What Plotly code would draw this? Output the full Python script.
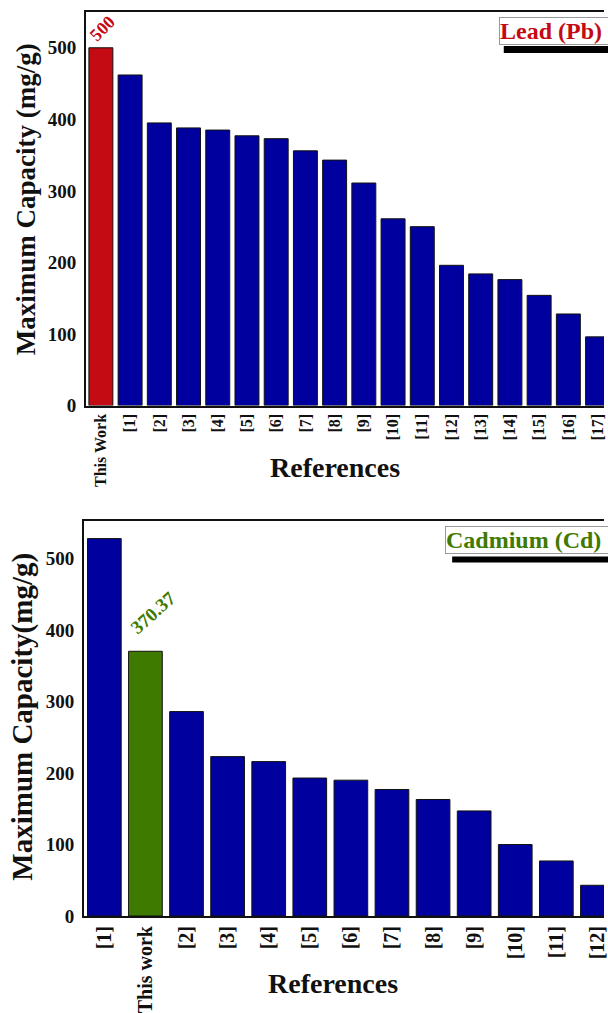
import plotly.graph_objects as go

# ---------------- data ----------------
pb_refs = ["This Work", "[1]", "[2]", "[3]", "[4]", "[5]", "[6]", "[7]", "[8]", "[9]",
           "[10]", "[11]", "[12]", "[13]", "[14]", "[15]", "[16]", "[17]"]
pb_vals = [500, 462, 395, 388, 385, 377, 373, 356, 343, 311,
           261, 250, 196, 184, 176, 154, 128, 96]

cd_refs = ["[1]", "This work", "[2]", "[3]", "[4]", "[5]", "[6]", "[7]", "[8]",
           "[9]", "[10]", "[11]", "[12]"]
cd_vals = [528, 370.37, 286, 223, 216, 193, 190, 177, 163, 147, 100, 77, 43]

y_ticks = [0, 100, 200, 300, 400, 500]

BLUE = "#00009E"
RED = "#C40A12"
GREEN = "#3F7A00"
FONT = "Liberation Serif"
INK = "#111"

pb_colors = [RED if r.lower() == "this work" else BLUE for r in pb_refs]
cd_colors = [GREEN if r.lower() == "this work" else BLUE for r in cd_refs]

fig = go.Figure()
fig.add_trace(go.Bar(x=pb_refs, y=pb_vals, marker=dict(color=pb_colors, line=dict(color=INK, width=1)),
                     xaxis="x", yaxis="y", showlegend=False))
fig.add_trace(go.Bar(x=cd_refs, y=cd_vals, marker=dict(color=cd_colors, line=dict(color=INK, width=1)),
                     xaxis="x2", yaxis="y2", showlegend=False))

W, H = 608, 1013
ML, MR, MT, MB = 84, 0, 12, 96
PW, PH = W - ML - MR, H - MT - MB


def px(x):
    return (x - ML) / PW


def py(y):
    return (H - MB - y) / PH


axis_common = dict(showline=True, linecolor=INK, linewidth=2, showgrid=False, zeroline=False, ticks="")


def tf(size):
    return dict(family=FONT, size=size, color=INK, weight="bold")


fig.update_layout(
    width=W, height=H,
    margin=dict(l=ML, r=MR, t=MT, b=MB),
    plot_bgcolor="white", paper_bgcolor="white",
    bargap=0.18,
    font=dict(family=FONT, color=INK),
    xaxis=dict(domain=[px(86), 1], anchor="y", type="category", range=[-0.51, 17.22],
               tickangle=-90, tickfont=tf(16), mirror=True, **axis_common),
    yaxis=dict(domain=[py(406), py(12)], anchor="x", range=[0, 550], tickvals=y_ticks,
               tickfont=tf(19), ticklabelstandoff=4, **axis_common),
    xaxis2=dict(domain=[0, 1], anchor="y2", type="category", range=[-0.495, 12.16],
                tickangle=-90, tickfont=tf(20), mirror=True, **axis_common),
    yaxis2=dict(domain=[0, py(522)], anchor="x2", range=[0, 552], tickvals=y_ticks,
                tickfont=tf(19), ticklabelstandoff=4, **axis_common),
)

ann = []
# axis titles
ann.append(dict(text="<b>Maximum Capacity (mg/g)</b>", x=px(25), y=py(199), xref="paper", yref="paper",
                xanchor="center", yanchor="middle",
                textangle=-90, showarrow=False, font=dict(family=FONT, size=27, color=INK)))
ann.append(dict(text="<b>References</b>", x=px(337), y=py(468), xref="paper", yref="paper",
                xanchor="center", yanchor="middle",
                showarrow=False, font=dict(family=FONT, size=28, color=INK)))
ann.append(dict(text="<b>Maximum Capacity(mg/g)</b>", x=px(22), y=py(717), xref="paper", yref="paper",
                xanchor="center", yanchor="middle",
                textangle=-90, showarrow=False, font=dict(family=FONT, size=29, color=INK)))
ann.append(dict(text="<b>References</b>", x=px(335), y=py(985), xref="paper", yref="paper",
                xanchor="center", yanchor="middle",
                showarrow=False, font=dict(family=FONT, size=28, color=INK)))

# value labels above "this work" bars
pb_i = [r.lower() for r in pb_refs].index("this work")
ann.append(dict(text="<b>%g</b>" % pb_vals[pb_i], x=pb_refs[pb_i], y=pb_vals[pb_i], xref="x", yref="y",
                textangle=-45, showarrow=False, yanchor="bottom", xshift=2, yshift=0,
                font=dict(family=FONT, size=18, color=RED)))
cd_i = [r.lower() for r in cd_refs].index("this work")
ann.append(dict(text="<b>%.2f</b>" % cd_vals[cd_i], x=cd_refs[cd_i], y=cd_vals[cd_i], xref="x2", yref="y2",
                textangle=-42, showarrow=False, yanchor="bottom", xshift=8, yshift=10,
                font=dict(family=FONT, size=19, color=GREEN)))

# metal labels (boxes) -- they run past the right edge of the picture, as in the reference
ann.append(dict(text="<b>Lead (Pb)</b>&nbsp;&nbsp;&nbsp;", x=px(502), y=py(17), xref="paper", yref="paper",
                xanchor="left", yanchor="top", showarrow=False, bgcolor="white",
                bordercolor="#999", borderwidth=1, borderpad=0,
                font=dict(family=FONT, size=24, color=RED)))
ann.append(dict(text="<b>Cadmium (Cd)</b>&nbsp;&nbsp;&nbsp;", x=px(448), y=py(527), xref="paper", yref="paper",
                xanchor="left", yanchor="top", showarrow=False, bgcolor="white",
                bordercolor="#999", borderwidth=1, borderpad=0,
                font=dict(family=FONT, size=24, color=GREEN)))
fig.update_layout(annotations=ann)

fig.update_layout(shapes=[
    dict(type="rect", xref="paper", yref="paper", x0=px(507), x1=1.05, y0=py(53), y1=py(46),
         fillcolor="#000", line=dict(width=0), layer="below"),
    dict(type="rect", xref="paper", yref="paper", x0=px(455), x1=1.05, y0=py(563), y1=py(557),
         fillcolor="#000", line=dict(width=0), layer="below"),
])

fig.write_html("out.html")
